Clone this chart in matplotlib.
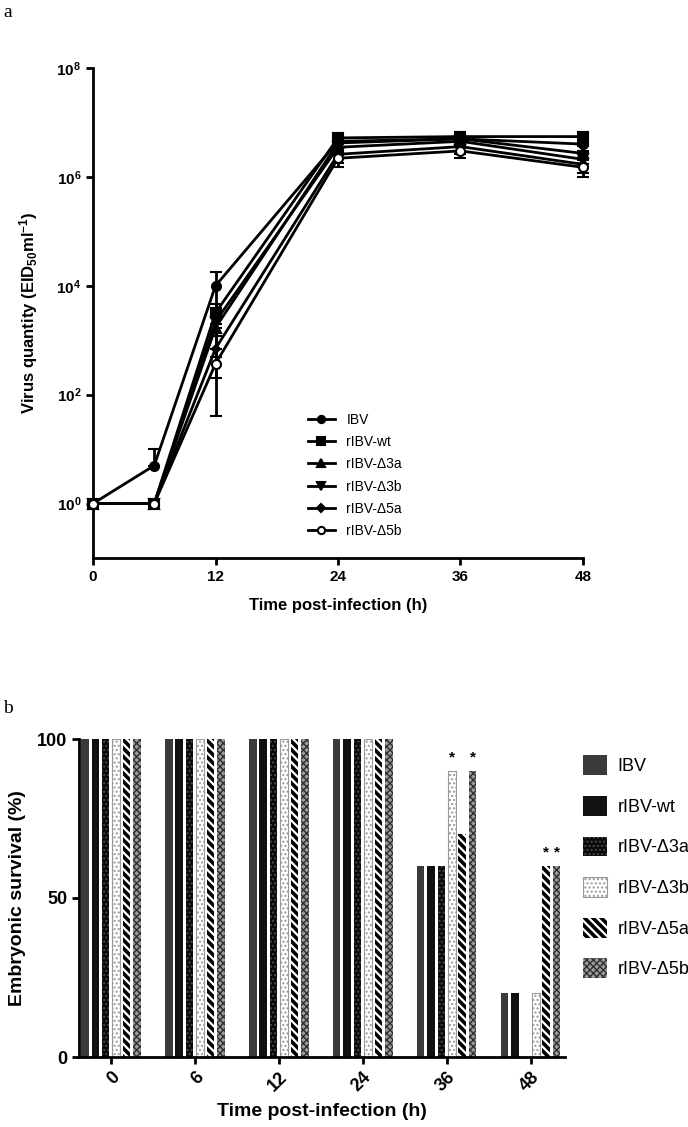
import numpy as np
import matplotlib
matplotlib.use("Agg")
import matplotlib.pyplot as plt
from matplotlib.lines import Line2D

plt.rcParams['font.family'] = ['Liberation Sans', 'DejaVu Sans']
plt.rcParams['mathtext.fontset'] = 'custom'
plt.rcParams['mathtext.rm'] = 'Liberation Sans:bold'
plt.rcParams['mathtext.bf'] = 'Liberation Sans:bold'
plt.rcParams['mathtext.it'] = 'Liberation Sans:bold'
plt.rcParams['mathtext.default'] = 'rm'
plt.rcParams['hatch.linewidth'] = 1.0

# ---------------- data ----------------
series = ['IBV', 'rIBV-wt', 'rIBV-Δ3a', 'rIBV-Δ3b', 'rIBV-Δ5a', 'rIBV-Δ5b']
hours = [0, 6, 12, 24, 36, 48]
a_xticks = [0, 12, 24, 36, 48]
a_yticks = [1, 1e2, 1e4, 1e6, 1e8]
a_ytick_labels = [r'$\mathbf{10^{0}}$', r'$\mathbf{10^{2}}$', r'$\mathbf{10^{4}}$',
                  r'$\mathbf{10^{6}}$', r'$\mathbf{10^{8}}$']

titer_ibv = [1, 5, 1.0e4, 4.5e6, 5.0e6, 4.0e6]
titer_wt = [1, 1, 3.2e3, 5.2e6, 5.5e6, 5.5e6]
titer_d3a = [1, 1, 1.7e3, 4.2e6, 5.0e6, 2.7e6]
titer_d3b = [1, 1, 2.2e3, 3.5e6, 4.5e6, 2.1e6]
titer_d5a = [1, 1, 7.0e2, 2.6e6, 3.6e6, 1.7e6]
titer_d5b = [1, 1, 3.7e2, 2.2e6, 3.0e6, 1.5e6]

sd_ibv = [0, 5, 8.0e3, 1.5e6, 1.5e6, 1.0e6]
sd_wt = [0, 0, 1.5e3, 1.2e6, 1.2e6, 1.2e6]
sd_d3a = [0, 0, 1.2e3, 1.0e6, 1.0e6, 1.0e6]
sd_d3b = [0, 0, 1.0e3, 1.0e6, 1.0e6, 6.0e5]
sd_d5a = [0, 0, 5.0e2, 8.0e5, 1.0e6, 5.0e5]
sd_d5b = [0, 0, 3.3e2, 7.0e5, 8.0e5, 5.0e5]

surv_ibv = [100, 100, 100, 100, 60, 20]
surv_wt = [100, 100, 100, 100, 60, 20]
surv_d3a = [100, 100, 100, 100, 60, 0]
surv_d3b = [100, 100, 100, 100, 90, 20]
surv_d5a = [100, 100, 100, 100, 70, 60]
surv_d5b = [100, 100, 100, 100, 90, 60]

# significance marks: (time index, series index)
stars = [(4, 3), (4, 5), (5, 4), (5, 5)]

titers = [titer_ibv, titer_wt, titer_d3a, titer_d3b, titer_d5a, titer_d5b]
sds = [sd_ibv, sd_wt, sd_d3a, sd_d3b, sd_d5a, sd_d5b]
survs = [surv_ibv, surv_wt, surv_d3a, surv_d3b, surv_d5a, surv_d5b]

# ---------------- figure ----------------
W, H = 688, 1127
fig = plt.figure(figsize=(W / 100, H / 100), dpi=100)

def fx(px):
    return px / W

def fy(py):
    return 1 - py / H

# ---------- panel a ----------
axa = fig.add_axes([fx(93), fy(558), fx(583) - fx(93), fy(68) - fy(558)])
markers = [dict(marker='o', mfc='black'), dict(marker='s', mfc='black'),
           dict(marker='^', mfc='black'), dict(marker='v', mfc='black'),
           dict(marker='D', mfc='black', markersize=4.5), dict(marker='o', mfc='white')]
handles = []
for name, y, e, mk in zip(series, titers, sds, markers):
    y = np.array(y, float)
    e = np.array(e, float)
    lo = np.where(e >= y, 0, e)
    kw = dict(markersize=6.5, mec='black', mew=1.5)
    kw.update(mk)
    axa.errorbar(hours, y, yerr=[lo, e], color='black', lw=2, elinewidth=2,
                 capsize=4, capthick=2, clip_on=False, zorder=3, **kw)
    hk = dict(kw)
    hk['markersize'] = kw['markersize'] * 0.8
    handles.append(Line2D([], [], color='black', lw=2, label=name, **hk))

axa.set_yscale('log')
axa.set_ylim(0.1, 1e8)
axa.set_xlim(0, 48)
axa.set_xticks(a_xticks)
axa.set_yticks(a_yticks)
axa.set_yticklabels(a_ytick_labels)
axa.yaxis.set_minor_locator(matplotlib.ticker.NullLocator())
for s in ['top', 'right']:
    axa.spines[s].set_visible(False)
for s in ['left', 'bottom']:
    axa.spines[s].set_linewidth(2)
axa.tick_params(width=2, length=5, labelsize=11)
for lab in axa.get_xticklabels():
    lab.set_fontweight('bold')
axa.set_xlabel('Time post-infection (h)', fontsize=12, fontweight='bold', labelpad=10)
axa.set_ylabel(r'Virus quantity (EID$_{50}$ml$^{-1}$)', fontsize=12, fontweight='bold', labelpad=12)

axw = fx(583) - fx(93)
axh = fy(68) - fy(558)
axa.legend(handles=handles, loc='upper left',
           bbox_to_anchor=((fx(302) - fx(93)) / axw, (fy(407) - fy(558)) / axh),
           frameon=False, fontsize=10, handlelength=2.0, labelspacing=0.6, handletextpad=0.8,
           borderaxespad=0)

# ---------- panel b ----------
axb = fig.add_axes([fx(79), fy(1057), fx(565) - fx(79), fy(739) - fy(1057)])
x = np.arange(len(hours))
pitch = 0.124
width = 0.09
styles = [
    dict(color='#3a3a3a', edgecolor='#3a3a3a', linewidth=0),
    dict(color='#111111', edgecolor='#111111', linewidth=0),
    dict(facecolor='#0a0a0a', edgecolor='#4a4a4a', hatch='....', linewidth=0),
    dict(facecolor='white', edgecolor='#9a9a9a', hatch='....', linewidth=0.8),
    dict(facecolor='white', edgecolor='black', hatch='\\\\\\\\', linewidth=0),
    dict(facecolor='#9a9a9a', edgecolor='#303030', hatch='xxxxx', linewidth=0),
]
hatch_lw = [1.0, 1.0, 1.0, 1.0, 2.6, 1.0]
bar_handles = []
for i, (name, v, st) in enumerate(zip(series, survs, styles)):
    pos = x + (i - 2.5) * pitch
    with plt.rc_context({'hatch.linewidth': hatch_lw[i]}):
        bars = axb.bar(pos, v, width=width, label=name, **st)
        for p in bars.patches:
            if hasattr(p, 'set_hatch_linewidth'):
                p.set_hatch_linewidth(hatch_lw[i])
    bar_handles.append(bars)
for ti, si in stars:
    axb.text(x[ti] + (si - 2.5) * pitch, survs[si][ti] + 2, '*', ha='center', va='bottom',
             fontsize=11, fontweight='bold')

axb.set_xlim(-0.38, 5.41)
axb.set_ylim(0, 100)
axb.set_yticks([0, 50, 100])
axb.set_xticks(x)
axb.set_xticklabels([str(h) for h in hours], rotation=45, ha='right', rotation_mode='anchor')
for s in ['top', 'right']:
    axb.spines[s].set_visible(False)
for s in ['left', 'bottom']:
    axb.spines[s].set_linewidth(2)
axb.tick_params(width=2, length=5, labelsize=13)
for lab in axb.get_xticklabels() + axb.get_yticklabels():
    lab.set_fontweight('bold')
axb.set_xlabel('Time post-infection (h)', fontsize=14, fontweight='bold', labelpad=6)
axb.set_ylabel('Embryonic survival (%)', fontsize=14, fontweight='bold', labelpad=8)

leg_b = fig.legend(handles=bar_handles, loc='upper left', bbox_to_anchor=(fx(576), fy(748)),
                   frameon=False, fontsize=13, handlelength=1.3, handleheight=1.3,
                   labelspacing=1.15, handletextpad=0.6, borderaxespad=0)
for p, lw in zip(leg_b.get_patches(), hatch_lw):
    if hasattr(p, 'set_hatch_linewidth'):
        p.set_hatch_linewidth(lw)

fig.text(fx(3), fy(4), 'a', family='Liberation Serif', fontsize=14, va='top', ha='left')
fig.text(fx(3), fy(700), 'b', family='Liberation Serif', fontsize=14, va='top', ha='left')

fig.savefig('out.png', dpi=100)
